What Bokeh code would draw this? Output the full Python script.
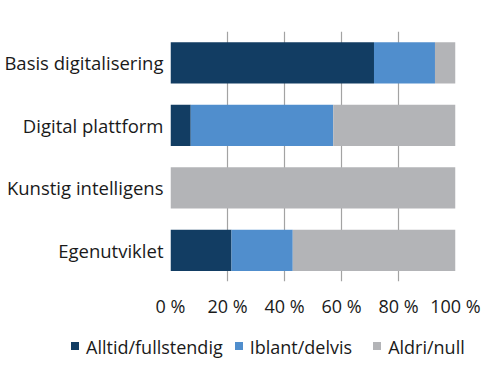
from bokeh.plotting import figure
from bokeh.models import FactorRange, Range1d, FixedTicker, Div
from bokeh.layouts import column
from bokeh.embed import file_html
from bokeh.resources import INLINE

categories = ["Basis digitalisering", "Digital plattform", "Kunstig intelligens", "Egenutviklet"]
alltid = [71.4, 7.1, 0.0, 21.4]
iblant = [21.4, 50.0, 0.0, 21.5]
aldri = [7.2, 42.9, 100.0, 57.1]
series_names = ["Alltid/fullstendig", "Iblant/delvis", "Aldri/null"]
colors = ["#123d63", "#508ecd", "#b3b4b7"]
tick_values = [0, 20, 40, 60, 80, 100]
tick_labels = ["0 %", "20 %", "40 %", "60 %", "80 %", "100 %"]

FONT = "Open Sans"

p = figure(width=484, height=320, output_backend="svg", toolbar_location=None,
           y_range=FactorRange(*list(reversed(categories))), x_range=Range1d(0, 100),
           min_border_left=170, min_border_right=29, min_border_top=31, min_border_bottom=39)
p.outline_line_color = None

data = dict(cat=categories, a=alltid, b=iblant, c=aldri)
keys = ["a", "b", "c"]
renderers = p.hbar_stack(keys, y="cat", height=0.66, color=colors, source=data, line_color=None)

p.ygrid.grid_line_color = None
p.xgrid.grid_line_color = "#a3a3a3"
p.xgrid.grid_line_width = 1.2
p.xaxis.ticker = FixedTicker(ticks=tick_values)
p.xaxis.major_label_overrides = {v: l for v, l in zip(tick_values, tick_labels)}
p.xaxis.axis_line_color = None
p.xaxis.major_tick_line_color = None
p.xaxis.minor_tick_line_color = None
p.xaxis.major_label_standoff = 6
p.yaxis.axis_line_color = None
p.yaxis.major_tick_line_color = None
p.yaxis.major_label_standoff = 1
for ax in (p.xaxis, p.yaxis):
    ax.major_label_text_font = FONT
    ax.major_label_text_color = "#1a1a1a"
p.xaxis.major_label_text_font_size = "18px"
p.yaxis.major_label_text_font_size = "18.5px"

# legend as a strip below the chart
gaps = [0, 12, 21]
parts = []
for name, col, gap in zip(series_names, colors, gaps):
    parts.append(
        f'<span style="display:inline-block;margin-left:{gap}px;">'
        f'<span style="display:inline-block;width:8px;height:8px;background:{col};'
        f'margin-right:7px;vertical-align:middle;position:relative;top:-1px;"></span>'
        f'<span style="vertical-align:middle;">{name}</span></span>'
    )
legend_html = (
    f'<div style="font-family:\'{FONT}\';font-size:18px;color:#1a1a1a;white-space:nowrap;'
    f'padding-left:71px;padding-top:14px;line-height:22px;">' + "".join(parts) + "</div>"
)
lg = Div(text=legend_html, width=484, height=47, margin=0)

layout = column(p, lg, spacing=0)
open("out.html", "w").write(file_html(layout, INLINE))
